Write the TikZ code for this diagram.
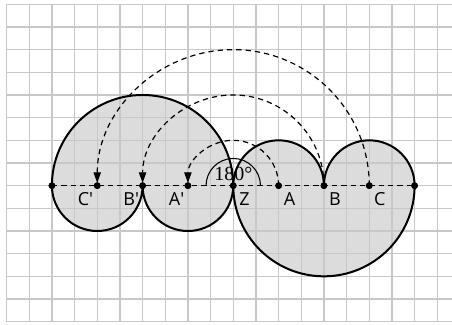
\documentclass[tikz,border=0pt]{standalone}
\usepackage{fontspec}
\setmainfont{Open Sans}
\newfontfamily\degfont{Liberation Serif}
\usetikzlibrary{arrows.meta}
\definecolor{gridgray}{RGB}{200,200,200}
\definecolor{fillgray}{RGB}{220,220,221}
\begin{document}
\begin{tikzpicture}[x=17pt,y=17pt,
  gridline/.style={draw=gridgray,line width=1.1pt},
  outline/.style={draw=black,line width=1.5pt},
  dashline/.style={draw=black,line width=0.9pt,dash pattern=on 4pt off 3pt},
  dot/.style={circle,fill=black,inner sep=0pt,minimum size=5pt},
  lbl/.style={font=\fontsize{13.5}{14}\selectfont,anchor=base,inner sep=0pt},
  tip/.style={-{Triangle[width=5.5pt,length=8pt]},shorten >=2pt}]
\useasboundingbox[fill=white] (-10.29,-6.14) rectangle (9.65,8.19);
% gray regions
\fill[fillgray] (-8,0) arc[start angle=180,end angle=0,radius=4]
  arc[start angle=0,end angle=-180,radius=2]
  arc[start angle=0,end angle=-180,radius=2] -- cycle;
\fill[fillgray] (0,0) arc[start angle=180,end angle=0,radius=2]
  arc[start angle=180,end angle=0,radius=2]
  arc[start angle=0,end angle=-180,radius=4] -- cycle;
% grid
\foreach \x in {-10,...,9} \draw[gridline] (\x,-6) -- (\x,8);
\foreach \y in {-6,...,8} \draw[gridline] (-10,\y) -- (9.65,\y);
% points
\node[dot] (L) at (-8,0) {};
\node[dot] (Cp) at (-6,0) {};
\node[dot] (Bp) at (-4,0) {};
\node[dot] (Ap) at (-2,0) {};
\node[dot] (Z) at (0,0) {};
\node[dot] (A) at (2,0) {};
\node[dot] (B) at (4,0) {};
\node[dot] (C) at (6,0) {};
\node[dot] (R) at (8,0) {};
% outlines
\draw[outline] (L.center) arc[start angle=180,end angle=0,radius=4]
  arc[start angle=0,end angle=-180,radius=2]
  arc[start angle=0,end angle=-180,radius=2];
\draw[outline] (Z.center) arc[start angle=180,end angle=0,radius=2]
  arc[start angle=180,end angle=0,radius=2]
  arc[start angle=0,end angle=-180,radius=4];
% dashed axis and arcs
\draw[dashline] (L.center) -- (R.center);
\draw[dashline,tip] (A.center) arc[start angle=0,end angle=180,radius=2];
\draw[dashline,tip] (B.center) arc[start angle=0,end angle=180,radius=4];
\draw[dashline,tip] (C.center) arc[start angle=0,end angle=180,radius=6];
% angle
\draw[line width=0.8pt] (1.2,0) arc[start angle=0,end angle=180,radius=1.2];
\node[anchor=base,inner sep=0pt,font=\degfont\fontsize{15}{16}\selectfont] (ang) at (0,0.21) {180°};
% redraw dots on top
\foreach \n in {L,Cp,Bp,Ap,Z,A,B,C,R} \fill (\n.center) circle[radius=2.5pt];
% labels
\node[lbl] (lCp) at (-6.52,-0.88) {C\textquotesingle};
\node[lbl] (lBp) at (-4.5,-0.88) {B\textquotesingle};
\node[lbl] (lAp) at (-2.5,-0.88) {A\textquotesingle};
\node[lbl] (lZ) at (0.5,-0.88) {Z};
\node[lbl] (lA) at (2.48,-0.88) {A};
\node[lbl] (lB) at (4.49,-0.88) {B};
\node[lbl] (lC) at (6.46,-0.88) {C};
\end{tikzpicture}
\end{document}
